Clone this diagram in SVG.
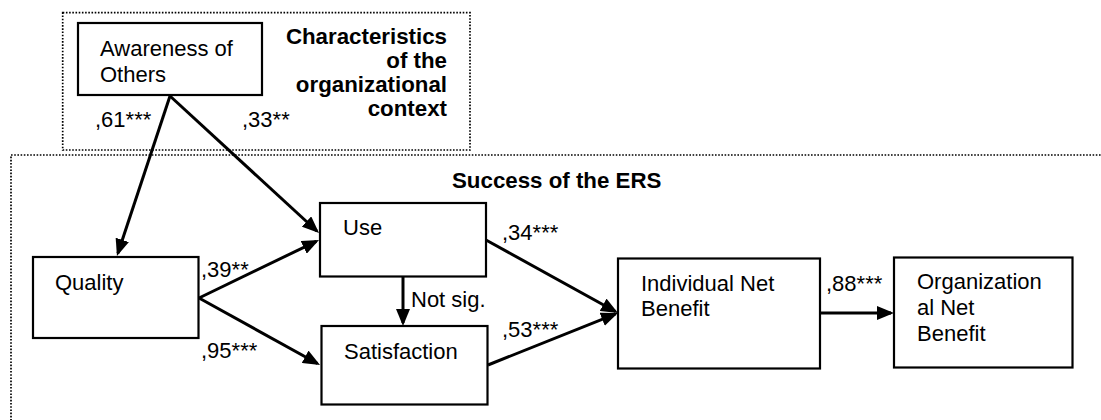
<svg xmlns="http://www.w3.org/2000/svg" width="1101" height="420" viewBox="0 0 1101 420">
<style>
text{font-family:"Liberation Sans",Arial,sans-serif;font-size:22px;fill:#000}
.b{font-weight:bold;font-size:22.3px}
.box{fill:#fff;stroke:#000;stroke-width:2.2}
.dot{fill:none;stroke:#000;stroke-width:1.7;stroke-dasharray:1.6 1.6}
.con line{stroke:#000;stroke-width:3;marker-end:url(#arr)}
</style>
<defs>
<marker id="arr" viewBox="0 0 17 14" refX="14" refY="7" markerWidth="17" markerHeight="14" orient="auto" markerUnits="userSpaceOnUse"><path d="M0,0 L17,7 L0,14 z" fill="#000"/></marker>
</defs>
<rect width="1101" height="420" fill="#fff"/>
<g id="context">
<rect class="dot" x="62.7" y="12.7" width="407.3" height="137.3"/>
<text class="b" text-anchor="end"><tspan x="447" y="44">Characteristics</tspan><tspan x="447" y="68">of the</tspan><tspan x="447" y="92">organizational</tspan><tspan x="447" y="116">context</tspan></text>
</g>
<g id="success">
<rect class="dot" x="11" y="155" width="1110" height="290"/>
<text class="b" x="452" y="188">Success of the ERS</text>
</g>
<g id="awareness">
<rect class="box" x="78" y="23" width="184" height="72"/>
<text><tspan x="100" y="56">Awareness of</tspan><tspan x="100" y="81.5">Others</tspan></text>
</g>
<g id="quality">
<rect class="box" x="33" y="257" width="165.5" height="81"/>
<text x="55" y="290">Quality</text>
</g>
<g id="use">
<rect class="box" x="320" y="203" width="166" height="73.5"/>
<text x="343" y="235">Use</text>
</g>
<g id="satisfaction">
<rect class="box" x="321.5" y="326" width="166" height="78.5"/>
<text x="344" y="359">Satisfaction</text>
</g>
<g id="individual">
<rect class="box" x="618" y="258.5" width="202" height="110"/>
<text><tspan x="641" y="291">Individual Net</tspan><tspan x="641" y="316">Benefit</tspan></text>
</g>
<g id="organizational">
<rect class="box" x="894" y="257.5" width="178.5" height="110"/>
<text><tspan x="917" y="289">Organization</tspan><tspan x="917" y="315">al Net</tspan><tspan x="917" y="341">Benefit</tspan></text>
</g>
<g id="connectors" class="con">
<line x1="170" y1="96" x2="117.9" y2="253.2"/>
<line x1="170" y1="96" x2="316.8" y2="231"/>
<line x1="199" y1="298" x2="316.3" y2="241.3"/>
<line x1="199" y1="298" x2="317.4" y2="363.5"/>
<line x1="403" y1="276.5" x2="403" y2="323"/>
<line x1="486" y1="240" x2="615.4" y2="311.5"/>
<line x1="488" y1="365" x2="615.2" y2="314.1"/>
<line x1="820" y1="313" x2="891" y2="313"/>
</g>
<g id="labels">
<text x="95" y="127">,61***</text>
<text x="242" y="127">,33**</text>
<text x="201" y="277">,39**</text>
<text x="201" y="358">,95***</text>
<text x="502" y="240">,34***</text>
<text x="502" y="337">,53***</text>
<text x="411" y="307">Not sig.</text>
<text x="826" y="291">,88***</text>
</g>
</svg>
